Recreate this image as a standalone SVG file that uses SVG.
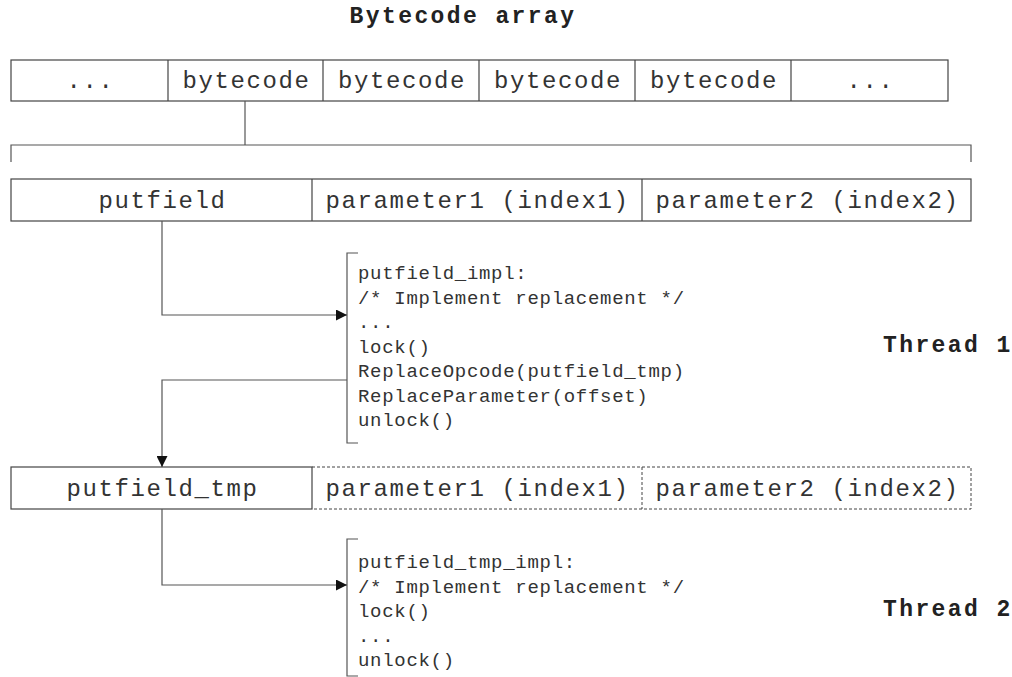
<svg xmlns="http://www.w3.org/2000/svg" width="1012" height="677" viewBox="0 0 1012 677">
  <style>
    .cell { fill: #fff; stroke: #444; stroke-width: 1.2; }
    .dash { fill: none; stroke: #444; stroke-width: 1; stroke-dasharray: 3 2; }
    .wire { fill: none; stroke: #555; stroke-width: 1.2; }
    .box { font-family: "Liberation Mono", "Courier New", monospace; font-size: 24px; fill: #333; text-anchor: middle; letter-spacing: 1.6px; }
    .code { font-family: "Liberation Mono", "Courier New", monospace; font-size: 19px; fill: #333; letter-spacing: 0.7px; }
    .head { font-family: "Liberation Mono", "Courier New", monospace; font-size: 23px; font-weight: bold; fill: #222; letter-spacing: 2.4px; }
  </style>
  <defs>
    <marker id="arrow" viewBox="0 0 10 10" refX="10" refY="5" markerWidth="11" markerHeight="11" markerUnits="userSpaceOnUse" orient="auto">
      <path d="M0,0 L10,5 L0,10 Z" fill="#111"/>
    </marker>
  </defs>
  <rect width="1012" height="677" fill="#fff"/>

  <text class="head" x="463" y="23" text-anchor="middle">Bytecode array</text>

  <!-- bytecode array row -->
  <g id="bytecode-array">
    <rect class="cell" x="11" y="60" width="937" height="41"/>
    <line class="cell" x1="168" y1="60" x2="168" y2="101"/>
    <line class="cell" x1="323" y1="60" x2="323" y2="101"/>
    <line class="cell" x1="479" y1="60" x2="479" y2="101"/>
    <line class="cell" x1="635" y1="60" x2="635" y2="101"/>
    <line class="cell" x1="791" y1="60" x2="791" y2="101"/>
    <text class="box" x="90.5" y="88">...</text>
    <text class="box" x="246.5" y="88">bytecode</text>
    <text class="box" x="402" y="88">bytecode</text>
    <text class="box" x="558" y="88">bytecode</text>
    <text class="box" x="714" y="88">bytecode</text>
    <text class="box" x="870.5" y="88">...</text>
  </g>

  <!-- expanded instruction: putfield -->
  <g id="putfield-instr">
    <rect class="cell" x="11" y="179" width="960" height="42"/>
    <line class="cell" x1="312" y1="179" x2="312" y2="221"/>
    <line class="cell" x1="642" y1="179" x2="642" y2="221"/>
    <text class="box" x="162.5" y="208">putfield</text>
    <text class="box" x="477.5" y="208">parameter1 (index1)</text>
    <text class="box" x="807.5" y="208">parameter2 (index2)</text>
  </g>

  <!-- rewritten instruction: putfield_tmp -->
  <g id="putfield-tmp-instr">
    <rect class="cell" x="11" y="467" width="301" height="42"/>
    <path class="dash" d="M312,467 H971 V509 H312"/>
    <line class="dash" x1="642" y1="467" x2="642" y2="509"/>
    <text class="box" x="162.5" y="496">putfield_tmp</text>
    <text class="box" x="477.5" y="496">parameter1 (index1)</text>
    <text class="box" x="807.5" y="496">parameter2 (index2)</text>
  </g>

  <!-- handler for putfield -->
  <g id="putfield-impl">
    <path class="wire" d="M358,253 H347 V443 H358"/>
    <text class="code" x="358" y="279">putfield_impl:</text>
    <text class="code" x="358" y="303.5">/* Implement replacement */</text>
    <text class="code" x="358" y="328">...</text>
    <text class="code" x="358" y="352.5">lock()</text>
    <text class="code" x="358" y="377">ReplaceOpcode(putfield_tmp)</text>
    <text class="code" x="358" y="401.5">ReplaceParameter(offset)</text>
    <text class="code" x="358" y="426">unlock()</text>
  </g>

  <!-- handler for putfield_tmp -->
  <g id="putfield-tmp-impl">
    <path class="wire" d="M358,539 H347 V676 H358"/>
    <text class="code" x="358" y="568">putfield_tmp_impl:</text>
    <text class="code" x="358" y="592.5">/* Implement replacement */</text>
    <text class="code" x="358" y="617">lock()</text>
    <text class="code" x="358" y="641.5">...</text>
    <text class="code" x="358" y="666">unlock()</text>
  </g>

  <g id="thread-labels">
    <text class="head" x="883" y="352">Thread 1</text>
    <text class="head" x="883" y="616">Thread 2</text>
  </g>

  <g id="connectors">
    <!-- selected bytecode expands into the instruction below -->
    <line class="wire" x1="245" y1="101" x2="245" y2="145"/>
    <path class="wire" d="M11,162 V145 H971 V162"/>
    <!-- dispatch to handlers -->
    <path class="wire" d="M162,221 V315 H347" marker-end="url(#arrow)"/>
    <path class="wire" d="M347,380 H162 V467" marker-end="url(#arrow)"/>
    <path class="wire" d="M162,509 V585 H347" marker-end="url(#arrow)"/>
  </g>
</svg>
